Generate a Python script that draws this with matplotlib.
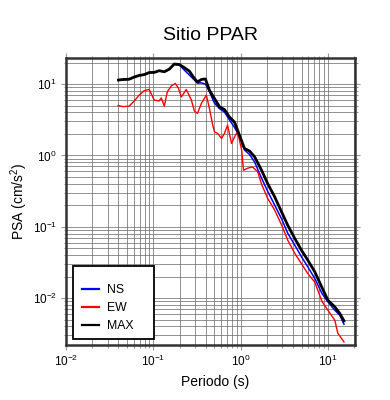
import matplotlib
matplotlib.use("Agg")
import matplotlib.pyplot as plt
from matplotlib.patches import Rectangle

plt.rcParams["font.family"] = ["Liberation Sans", "DejaVu Sans"]
plt.rcParams["mathtext.default"] = "regular"

# periodos (s) y PSA (cm/s2)
periodo = [0.040, 0.045, 0.053, 0.060, 0.069, 0.079, 0.090, 0.103, 0.117, 0.134,
           0.153, 0.174, 0.199, 0.227, 0.259, 0.296, 0.321, 0.356, 0.396, 0.440,
           0.502, 0.574, 0.655, 0.748, 0.853, 0.975, 1.11, 1.27, 1.45, 1.74,
           2.04, 2.46, 2.96, 3.47, 4.18, 5.02, 5.89, 7.09, 8.53, 10.0,
           12.0, 13.7, 15.3]
psa_max = [11.4, 11.6, 11.7, 12.5, 13.2, 13.6, 14.5, 14.6, 15.4, 14.9,
           16.2, 19.1, 18.8, 17.0, 15.2, 12.0, 10.7, 11.6, 11.8, 8.2,
           6.3, 4.8, 4.39, 3.44, 2.93, 1.90, 1.25, 1.15, 0.955, 0.62,
           0.405, 0.262, 0.160, 0.105, 0.0685, 0.0462, 0.034, 0.0233, 0.0142, 0.00935,
           0.00754, 0.00608, 0.0048]
psa_ns = [11.3, 11.5, 11.6, 12.4, 13.1, 13.5, 14.4, 14.5, 15.3, 14.8,
          16.0, 18.8, 18.5, 15.7, 13.4, 11.4, 10.3, 10.4, 10.0, 7.85,
          5.42, 4.53, 4.05, 3.13, 2.47, 1.85, 1.19, 1.03, 0.805, 0.48,
          0.316, 0.201, 0.128, 0.0813, 0.0552, 0.0375, 0.0274, 0.0188, 0.0117, 0.00885,
          0.00677, 0.00575, 0.0043]

periodo_ew = [0.0396, 0.0452, 0.0530, 0.0605, 0.0690, 0.0789, 0.0899, 0.1026, 0.117, 0.1236,
              0.134, 0.145, 0.161, 0.179, 0.194, 0.210, 0.239, 0.273, 0.296, 0.321,
              0.356, 0.406, 0.440, 0.476, 0.502, 0.545, 0.606, 0.655, 0.710, 0.789,
              0.853, 0.925, 1.03, 1.08, 1.20, 1.37, 1.57, 1.74, 2.04, 2.46,
              2.96, 3.47, 4.18, 5.02, 5.89, 7.09, 8.53, 10.0, 12.0, 13.0,
              15.3]
psa_ew = [5.0, 4.83, 4.9, 5.78, 7.0, 8.1, 8.4, 5.97, 5.8, 6.4,
          4.9, 7.8, 9.4, 10.2, 8.8, 6.6, 8.4, 6.0, 4.2, 3.88,
          5.36, 7.0, 4.56, 2.81, 2.14, 2.04, 1.73, 2.04, 2.66, 1.47,
          1.82, 2.14, 1.19, 0.62, 0.66, 0.69, 0.59, 0.395, 0.252, 0.171,
          0.105, 0.0649, 0.0423, 0.0299, 0.0221, 0.0167, 0.00906, 0.00677, 0.0049, 0.00322,
          0.00243]

fig = plt.figure(figsize=(3.9, 4.0), dpi=100)
ax = fig.add_axes([0.169, 0.1375, 0.741, 0.7185])

ax.plot(periodo, psa_ns, color="#0000ff", lw=1.1, label="NS", zorder=3)
ax.plot(periodo_ew, psa_ew, color="#ff0000", lw=1.0, label="EW", zorder=3)
ax.plot(periodo, psa_max, color="black", lw=2.0, label="MAX", zorder=4)

ax.set_xscale("log")
ax.set_yscale("log")
ax.set_xlim(0.01, 20.4)
ax.set_ylim(0.0022, 23.5)

ax.grid(True, which="both", color="0.4", lw=0.5)
ax.set_axisbelow(True)
for s in ax.spines.values():
    s.set_linewidth(1.8)
    s.set_color("0.2")
ax.tick_params(which="both", direction="out", color="0.6", width=0.8,
               top=True, right=True, labelsize=8.5, pad=3)
ax.tick_params(which="major", length=3.5)
ax.tick_params(which="minor", length=1.8)

ax.set_xlabel("Periodo (s)", fontsize=10)
ax.xaxis.set_label_coords(0.517, -0.104)
ax.set_ylabel("PSA (cm/s$^2$)", fontsize=10)
ax.yaxis.set_label_coords(-0.125, 0.5)

fig.text(0.541, 0.90, "Sitio PPAR", fontsize=14, ha="center", va="baseline")

ax.add_patch(Rectangle((0.024, 0.021), 0.28, 0.254, transform=ax.transAxes,
                       fill=True, facecolor="white", edgecolor="black", lw=1.3, zorder=5))
leg = ax.legend(loc="upper left", bbox_to_anchor=(0.055, 0.212), frameon=False,
                borderpad=0, borderaxespad=0, fontsize=8.8, handlelength=1.4,
                handletextpad=0.7, labelspacing=0.5)
for line in leg.get_lines():
    line.set_linewidth(1.6)
leg.set_zorder(6)

fig.savefig("out.png", dpi=100)
